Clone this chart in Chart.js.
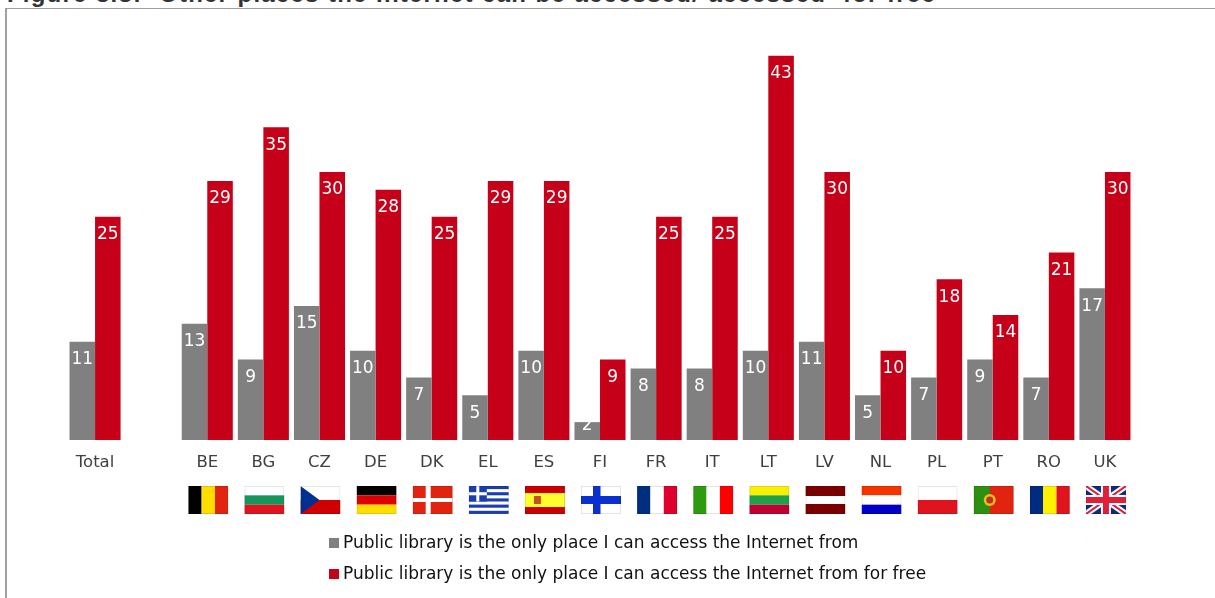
<!DOCTYPE html>
<html>
<head>
<meta charset="utf-8">
<title>Figure 8.8</title>
<script src="https://cdn.jsdelivr.net/npm/chart.js@4"></script>
<style>
  html, body { margin: 0; padding: 0; background: #fff; overflow: hidden; }
  #wrap { position: relative; width: 1215px; height: 598px; overflow: hidden; }
  #title { position: absolute; left: 7px; top: -20px; font: bold 24px "Liberation Sans", sans-serif; color: #333; white-space: pre; letter-spacing: 1.2px; word-spacing: 0.6px; }
  #frame { position: absolute; left: 5px; top: 8px; width: 1215px; height: 600px; border: 1px solid #a0a0a0; border-left-width: 2px; box-sizing: border-box; }
  #chart { position: absolute; left: 0; top: 0; }
  #legend { position: absolute; left: 329px; top: 530px; font: 17px "DejaVu Sans", sans-serif; color: #111; }
  #legend div { height: 31px; line-height: 24px; white-space: pre; }
  #legend i { display: inline-block; width: 10px; height: 10px; margin-right: 4px; }
</style>
</head>
<body>
<div id="wrap">
  <div id="title">Figure 8.8:  Other places the Internet can be accessed/ accessed  for free</div>
  <div id="frame"></div>
  <canvas id="chart" width="1215" height="598"></canvas>
  <div id="legend"></div>
</div>
<script>
// data
const categories = ["Total", "", "BE", "BG", "CZ", "DE", "DK", "EL", "ES", "FI", "FR", "IT", "LT", "LV", "NL", "PL", "PT", "RO", "UK"];
const onlyPlace = [11, null, 13, 9, 15, 10, 7, 5, 10, 2, 8, 8, 10, 11, 5, 7, 9, 7, 17];
const onlyPlaceFree = [25, null, 29, 35, 30, 28, 25, 29, 29, 9, 25, 25, 43, 30, 10, 18, 14, 21, 30];
const seriesNames = [
  "Public library is the only place I can access the Internet from",
  "Public library is the only place I can access the Internet from for free"
];
const GREY = "#808080";
const RED = "#c50018";

// flag stripes: direction + colours
const flags = {
  BE: ["v", "#000000", "#ffdd00", "#e0240f"],
  BG: ["h", "#ffffff", "#16965a", "#e0141e"],
  DE: ["h", "#000000", "#dd0000", "#ffdd00"],
  FR: ["v", "#002f80", "#ffffff", "#e0002d"],
  IT: ["v", "#2e9a10", "#ffffff", "#ff0000"],
  LT: ["h", "#f8f000", "#20a04a", "#c00030"],
  NL: ["h", "#f53200", "#ffffff", "#0000c8"],
  PL: ["h", "#ffffff", "#e0141e"],
  RO: ["v", "#002b80", "#fff000", "#e0141e"]
};

function stripes(ctx, x, y, w, h, f) {
  const cols = f.slice(1);
  cols.forEach((c, i) => {
    ctx.fillStyle = c;
    if (f[0] === "v") ctx.fillRect(x + w * i / cols.length, y, w / cols.length, h);
    else ctx.fillRect(x, y + h * i / cols.length, w, h / cols.length);
  });
}

function drawFlag(ctx, code, x, y, w, h) {
  ctx.save();
  ctx.beginPath();
  ctx.rect(x, y, w, h);
  ctx.clip();
  ctx.fillStyle = "#ffffff";
  ctx.fillRect(x, y, w, h);
  if (flags[code]) {
    stripes(ctx, x, y, w, h, flags[code]);
  } else if (code === "CZ") {
    stripes(ctx, x, y, w, h, ["h", "#ffffff", "#d00000"]);
    ctx.fillStyle = "#003090";
    ctx.beginPath();
    ctx.moveTo(x, y); ctx.lineTo(x + 19, y + h / 2); ctx.lineTo(x, y + h);
    ctx.fill();
  } else if (code === "DK") {
    ctx.fillStyle = "#e0240f";
    ctx.fillRect(x, y, w, h);
    ctx.fillStyle = "#ffffff";
    ctx.fillRect(x + 13, y, 5, h);
    ctx.fillRect(x, y + 12, w, 4);
  } else if (code === "EL") {
    ctx.fillStyle = "#ffffff";
    ctx.fillRect(x, y, w, h);
    ctx.fillStyle = "#1a3db0";
    for (let i = 0; i < 5; i++) ctx.fillRect(x, y + i * 6.2, w, 3.1);
    ctx.fillRect(x, y, 18, 15.5);
    ctx.fillStyle = "#ffffff";
    ctx.fillRect(x + 7.5, y, 3, 15.5);
    ctx.fillRect(x, y + 6.2, 18, 3.1);
  } else if (code === "ES") {
    ctx.fillStyle = "#cc0000";
    ctx.fillRect(x, y, w, h);
    ctx.fillStyle = "#ffff30";
    ctx.fillRect(x, y + 7, w, 14);
    ctx.fillStyle = "#c85020";
    ctx.fillRect(x + 9, y + 10, 7, 8);
  } else if (code === "FI") {
    ctx.fillStyle = "#0a30d0";
    ctx.fillRect(x + 12, y, 7.5, h);
    ctx.fillRect(x, y + 10, w, 8);
  } else if (code === "LV") {
    ctx.fillStyle = "#7a0000";
    ctx.fillRect(x, y, w, 10);
    ctx.fillRect(x, y + 18, w, 10);
  } else if (code === "PT") {
    ctx.fillStyle = "#e0240f";
    ctx.fillRect(x, y, w, h);
    ctx.fillStyle = "#2e9010";
    ctx.fillRect(x, y, 16, h);
    ctx.fillStyle = "#e8c020";
    ctx.beginPath(); ctx.arc(x + 16, y + 14, 6, 0, Math.PI * 2); ctx.fill();
    ctx.fillStyle = "#c03020";
    ctx.beginPath(); ctx.arc(x + 16, y + 14, 3.5, 0, Math.PI * 2); ctx.fill();
  } else if (code === "UK") {
    ctx.fillStyle = "#102a80";
    ctx.fillRect(x, y, w, h);
    ctx.strokeStyle = "#ffffff";
    ctx.lineWidth = 6;
    ctx.beginPath();
    ctx.moveTo(x, y); ctx.lineTo(x + w, y + h);
    ctx.moveTo(x + w, y); ctx.lineTo(x, y + h);
    ctx.stroke();
    ctx.strokeStyle = "#e0203a";
    ctx.lineWidth = 2;
    ctx.stroke();
    ctx.fillStyle = "#ffffff";
    ctx.fillRect(x + 15, y, 10, h);
    ctx.fillRect(x, y + 9, w, 10);
    ctx.fillStyle = "#e0203a";
    ctx.fillRect(x + 17, y, 6, h);
    ctx.fillRect(x, y + 11, w, 6);
  }
  // faint edge, the white flags need it
  ctx.strokeStyle = "rgba(0,0,0,0.1)";
  ctx.lineWidth = 1;
  ctx.strokeRect(x + 0.5, y + 0.5, w - 1, h - 1);
  ctx.restore();
}

// white value labels inside the top of each bar, flags under the axis
const extras = {
  id: "extras",
  afterDatasetsDraw(chart) {
    const ctx = chart.ctx;
    ctx.save();
    ctx.font = '17px "DejaVu Sans"';
    ctx.fillStyle = "#ffffff";
    ctx.textAlign = "center";
    ctx.textBaseline = "middle";
    chart.data.datasets.forEach((ds, d) => {
      chart.getDatasetMeta(d).data.forEach((bar, i) => {
        const v = ds.data[i];
        if (v == null) return;
        const y = v < 4 ? bar.y + 3 : bar.y + 18;
        ctx.fillText(String(v), bar.x, y);
      });
    });
    ctx.restore();
    const xs = chart.scales.x;
    categories.forEach((c, i) => {
      if (c && c !== "Total") drawFlag(ctx, c, xs.getPixelForValue(i) - 19, 486, 40, 28);
    });
  }
};

new Chart(document.getElementById("chart"), {
  type: "bar",
  data: {
    labels: categories,
    datasets: [
      { label: seriesNames[0], data: onlyPlace, backgroundColor: GREY },
      { label: seriesNames[1], data: onlyPlaceFree, backgroundColor: RED }
    ]
  },
  options: {
    responsive: false,
    animation: false,
    layout: { padding: { left: 67, right: 82, top: 38, bottom: 0 } },
    datasets: { bar: { barPercentage: 1, categoryPercentage: 0.91 } },
    plugins: { legend: { display: false }, tooltip: { enabled: false } },
    scales: {
      x: {
        grid: { display: false },
        border: { display: false },
        afterFit: s => { s.height = 158; },
        ticks: { color: "#404040", font: { family: "DejaVu Sans", size: 16.5 }, padding: 5, maxRotation: 0, autoSkip: false }
      },
      y: { display: false, min: 0, max: 45 }
    }
  },
  plugins: [extras]
});

// legend
const legendBox = document.getElementById("legend");
seriesNames.forEach((name, i) => {
  const row = document.createElement("div");
  row.innerHTML = `<i style="background:${i ? RED : GREY}"></i>${name}`;
  legendBox.appendChild(row);
});
</script>
</body>
</html>
